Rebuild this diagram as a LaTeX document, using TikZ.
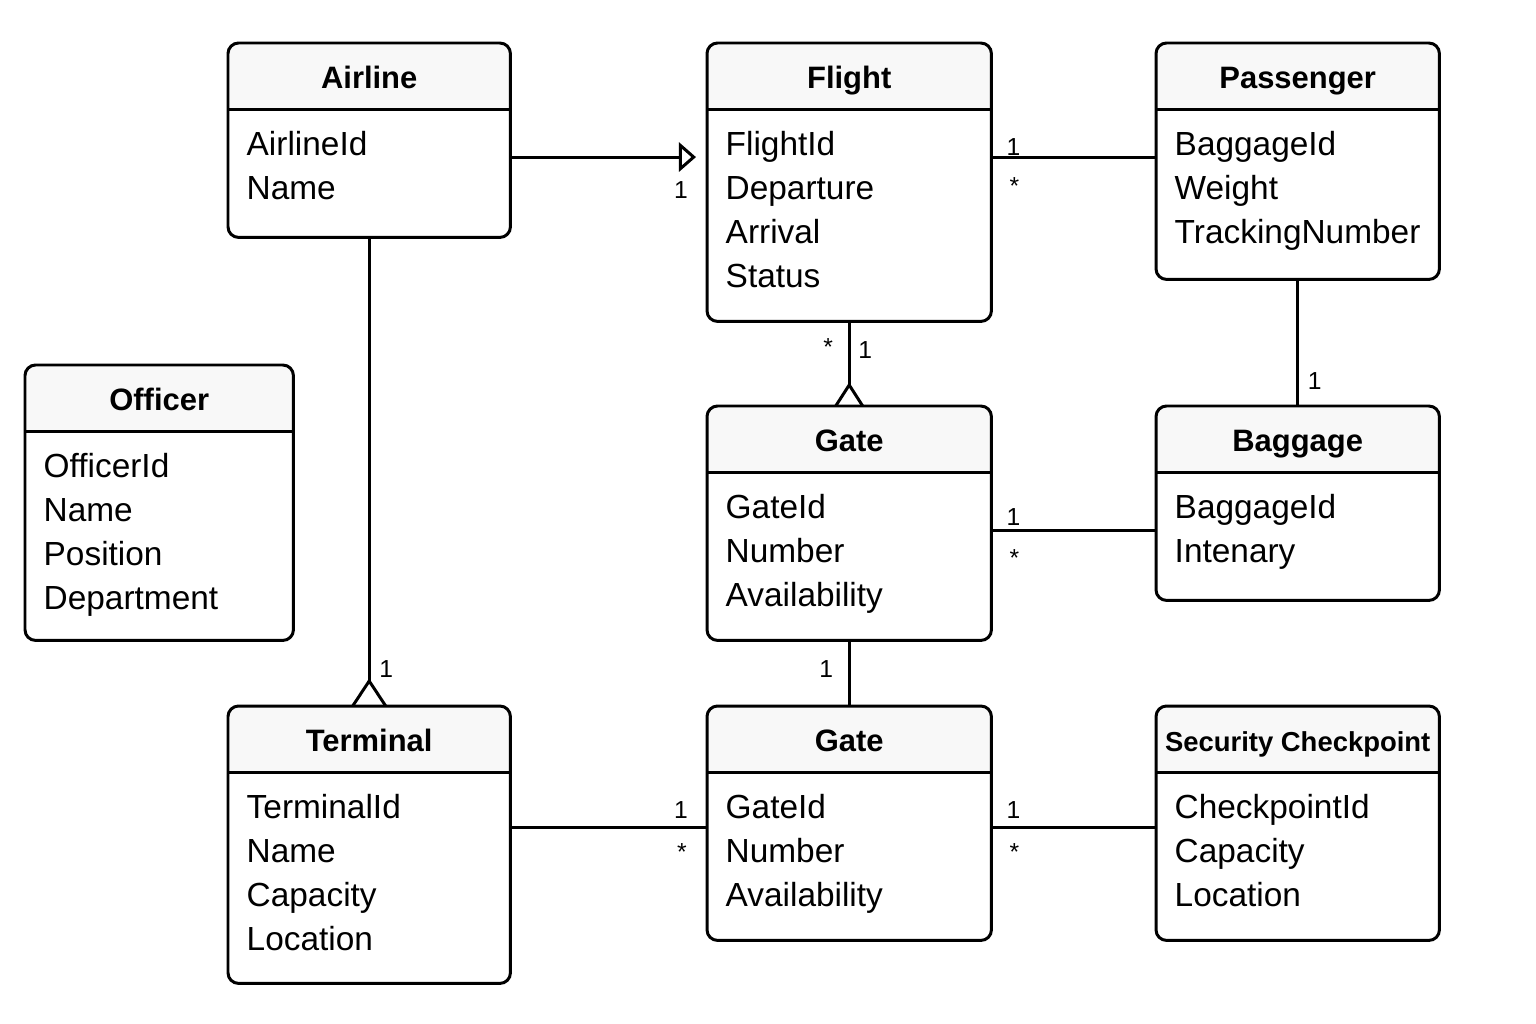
\documentclass[tikz,border=0pt]{standalone}
\usepackage{fontspec}
\setmainfont{Liberation Sans}
\usetikzlibrary{arrows.meta, positioning}

\definecolor{headfill}{HTML}{F8F8F8}

\tikzset{
  classbox/.style={rectangle, anchor=north west, inner sep=0pt},
  classhead/.style={inner sep=0pt, text height=0.72em, text depth=0pt,
    font=\bfseries\fontsize{8.8}{10}\selectfont},
  attr/.style={anchor=west, inner sep=0pt, text height=0.72em, text depth=0pt,
    font=\fontsize{9.5}{11}\selectfont},
  mult/.style={inner sep=0pt, font=\fontsize{7}{8}\selectfont},
  link/.style={line width=0.85pt},
}

% name, x, y, width, height (pixels), title, attributes
\newcommand{\umlclass}[7]{%
  \node[classbox, minimum width=#4*0.01cm, minimum height=#5*0.01cm] (#1) at (#2,#3) {};
  \begin{scope}
    \clip[rounded corners=3pt] (#1.north west) rectangle (#1.south east);
    \fill[headfill] (#1.north west) rectangle ([yshift=-0.66cm]#1.north east);
  \end{scope}
  \draw[link, rounded corners=3pt] (#1.north west) rectangle (#1.south east);
  \draw[link] ([yshift=-0.66cm]#1.north west) -- ([yshift=-0.66cm]#1.north east);
  \node[classhead] (#1-title) at ([yshift=-0.33cm]#1.north) {#6};
  \foreach \a [count=\i from 0] in {#7}
    \node[attr] (#1-a\i) at ([xshift=0.18cm, yshift=-1.0cm-\i*0.44cm]#1.north west) {\a};
}

% open "many" end on top of a box
\newcommand{\manyend}[3]{%
  \draw[link] ([xshift=-#2]#1.north) -- ([yshift=#3]#1.north) -- ([xshift=#2]#1.north);
}

\begin{document}
\begin{tikzpicture}[x=0.01cm, y=-0.01cm]
  \fill[white] (0,0) rectangle (1536,1024);
  \useasboundingbox (0,0) rectangle (1536,1024);

  % classes
  \umlclass{airline}{228}{43}{281}{193}{Airline}{AirlineId,Name}
  \umlclass{flight}{707}{43}{283}{277}{Flight}{FlightId,Departure,Arrival,Status}
  \umlclass{passenger}{1156}{43}{282}{235}{Passenger}{BaggageId,Weight,TrackingNumber}
  \umlclass{officer}{25}{365}{267}{274}{Officer}{OfficerId,Name,Position,Department}
  \umlclass{gate1}{707}{406}{283}{233}{Gate}{GateId,Number,Availability}
  \umlclass{baggage}{1156}{406}{282}{193}{Baggage}{BaggageId,Intenary}
  \umlclass{terminal}{228}{706}{281}{276}{Terminal}{TerminalId,Name,Capacity,Location}
  \umlclass{gate2}{707}{706}{283}{233}{Gate}{GateId,Number,Availability}
  \umlclass{security}{1156}{706}{282}{233}{\fontsize{7.8}{9}\selectfont Security Checkpoint}{CheckpointId,Capacity,Location}

  % connector ends
  \coordinate (af-s) at ([yshift=-1.14cm]airline.north east);
  \coordinate (af-e) at ([yshift=-1.14cm]flight.north west);
  \coordinate (fp-s) at ([yshift=-1.14cm]flight.north east);
  \coordinate (fp-e) at ([yshift=-1.14cm]passenger.north west);
  \coordinate (gb-s) at ([yshift=-1.24cm]gate1.north east);
  \coordinate (gb-e) at ([yshift=-1.24cm]baggage.north west);
  \coordinate (tg-s) at ([yshift=-1.21cm]terminal.north east);
  \coordinate (tg-e) at ([yshift=-1.21cm]gate2.north west);
  \coordinate (gs-s) at ([yshift=-1.21cm]gate2.north east);
  \coordinate (gs-e) at ([yshift=-1.21cm]security.north west);

  % associations
  \draw[link, -{Triangle[open, length=0.17cm, width=0.29cm]}, shorten >=0.11cm] (af-s) -- (af-e);
  \node[mult] at ([xshift=-0.26cm, yshift=-0.33cm]af-e) {1};

  \draw[link] (fp-s) -- (fp-e);
  \node[mult] at ([xshift=0.22cm, yshift=0.10cm]fp-s) {1};
  \node[mult] at ([xshift=0.23cm, yshift=-0.29cm]fp-s) {*};

  \draw[link] (flight.south) -- ([yshift=0.21cm]gate1.north);
  \manyend{gate1}{0.135cm}{0.21cm}
  \node[mult] at ([xshift=-0.21cm, yshift=-0.26cm]flight.south) {*};
  \node[mult] at ([xshift=0.16cm, yshift=-0.29cm]flight.south) {1};

  \draw[link] (passenger.south) -- (baggage.north);
  \node[mult] at ([xshift=0.17cm, yshift=0.25cm]baggage.north) {1};

  \draw[link] (gb-s) -- (gb-e);
  \node[mult] at ([xshift=0.22cm, yshift=0.13cm]gb-s) {1};
  \node[mult] at ([xshift=0.23cm, yshift=-0.28cm]gb-s) {*};

  \draw[link] (gate1.south) -- (gate2.north);
  \node[mult] at ([xshift=-0.23cm, yshift=0.37cm]gate2.north) {1};

  \draw[link] (airline.south) -- ([yshift=0.25cm]terminal.north);
  \manyend{terminal}{0.165cm}{0.25cm}
  \node[mult] at ([xshift=0.17cm, yshift=0.37cm]terminal.north) {1};

  \draw[link] (tg-s) -- (tg-e);
  \node[mult] at ([xshift=-0.26cm, yshift=0.17cm]tg-e) {1};
  \node[mult] at ([xshift=-0.25cm, yshift=-0.25cm]tg-e) {*};

  \draw[link] (gs-s) -- (gs-e);
  \node[mult] at ([xshift=0.22cm, yshift=0.17cm]gs-s) {1};
  \node[mult] at ([xshift=0.23cm, yshift=-0.25cm]gs-s) {*};
\end{tikzpicture}
\end{document}
